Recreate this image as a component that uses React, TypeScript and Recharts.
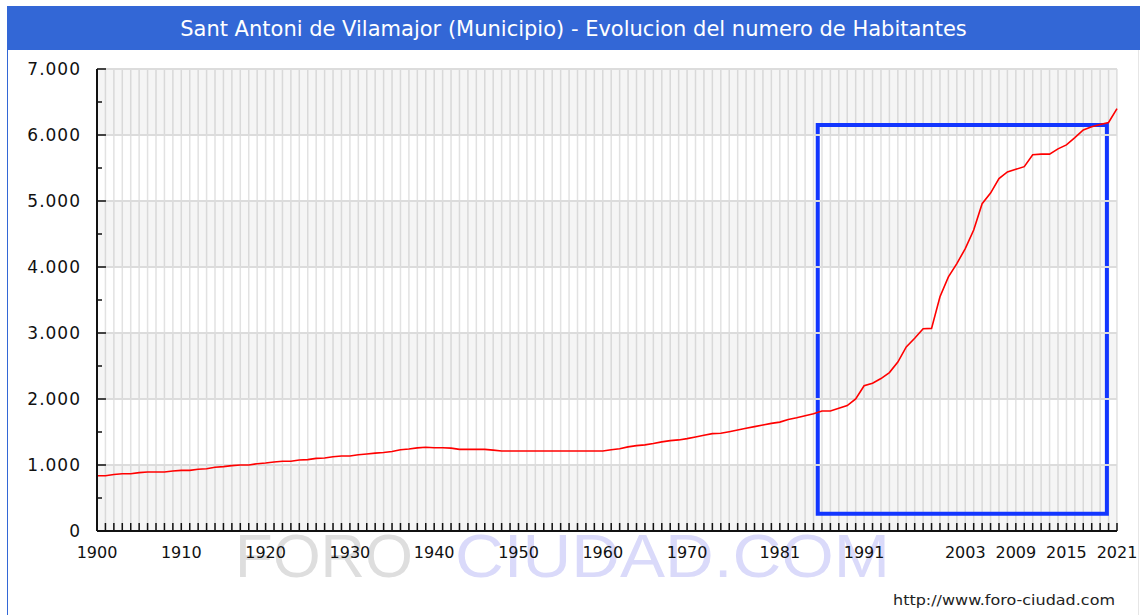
import {
  LineChart,
  Line,
  XAxis,
  YAxis,
  CartesianGrid,
  ReferenceArea,
  ReferenceLine,
} from 'recharts';

const TITLE = 'Sant Antoni de Vilamajor (Municipio) - Evolucion del numero de Habitantes';

const START_YEAR = 1900;

// habitantes por año, 1900 -> 2021
const POPULATION = [
  838, 838, 855, 868, 868, 885, 894, 894, 894, 910,
  919, 919, 935, 944, 965, 975, 990, 1000, 1000, 1020,
  1030, 1045, 1056, 1056, 1075, 1081, 1100, 1106, 1125, 1136,
  1136, 1155, 1167, 1180, 1190, 1205, 1230, 1242, 1260, 1268,
  1262, 1262, 1255, 1237, 1237, 1237, 1237, 1225, 1212, 1212,
  1212, 1212, 1212, 1212, 1212, 1212, 1212, 1212, 1212, 1212,
  1212, 1230, 1245, 1275, 1293, 1305, 1325, 1350, 1369, 1380,
  1400, 1425, 1450, 1475, 1480, 1505, 1530, 1556, 1581, 1606,
  1631, 1650, 1690, 1715, 1745, 1775, 1818, 1818, 1860, 1900,
  2000, 2200, 2240, 2310, 2400, 2560, 2790, 2920, 3065, 3070,
  3550, 3850, 4050, 4280, 4560, 4960, 5120, 5340, 5440, 5480,
  5520, 5700, 5710, 5710, 5790, 5850, 5960, 6076, 6126, 6160,
  6190, 6400,
];

const LABEL_YEARS = [1900, 1910, 1920, 1930, 1940, 1950, 1960, 1970, 1981, 1991, 2003, 2009, 2015, 2021];
const Y_TICKS = [0, 500, 1000, 1500, 2000, 2500, 3000, 3500, 4000, 4500, 5000, 5500, 6000, 6500, 7000];
const Y_GRID = [1000, 2000, 3000, 4000, 5000, 6000, 7000];
const SHADED_BANDS = [0, 2000, 4000, 6000];

// recuadro azul dibujado encima
const HIGHLIGHT_X = [1985.5, 2019.8];
const HIGHLIGHT_Y = [260, 6150];

const data = POPULATION.map((v, i) => ({ year: START_YEAR + i, hab: v }));
const YEAR_TICKS = data.map(d => d.year);

const FONT = '"DejaVu Sans", Verdana, sans-serif';

const fmt = (n: number) => String(n).replace(/\B(?=(\d{3})+(?!\d))/g, '.');

function YearTick(props: any) {
  const { x, y, payload } = props;
  const year = payload.value;
  return (
    <g>
      <line x1={x} x2={x} y1={y} y2={y - 8} stroke="#111" strokeWidth={1.5} />
      {LABEL_YEARS.includes(year) && (
        <text x={x} y={y + 21} textAnchor="middle" dominantBaseline="central"
          fontFamily={FONT} fontSize={16} fill="#111">
          {year}
        </text>
      )}
    </g>
  );
}

function ValueTick(props: any) {
  const { x, y, payload } = props;
  const major = payload.value % 1000 === 0;
  return (
    <g>
      <line x1={x} x2={x + (major ? 9 : 5)} y1={y} y2={y} stroke="#111" strokeWidth={1.5} />
      {major && (
        <text x={x - 16} y={y} textAnchor="end" dominantBaseline="central"
          fontFamily={FONT} fontSize={17} letterSpacing={1} fill="#111">
          {fmt(payload.value)}
        </text>
      )}
    </g>
  );
}

export default function App() {
  return (
    <div style={{ position: 'absolute', left: 0, top: 0, width: 1140, height: 615, background: '#fff', overflow: 'hidden', fontFamily: FONT }}>
      <div style={{
        position: 'absolute', left: 7, top: 6, width: 1133, height: 44, background: '#3367d6',
        color: '#fff', fontSize: 21, lineHeight: '46px', textAlign: 'center',
      }}>
        {TITLE}
      </div>
      <div style={{ position: 'absolute', left: 7, top: 50, width: 1, height: 565, background: '#3367d6' }} />
      <div style={{ position: 'absolute', left: 1138, top: 50, width: 1, height: 565, background: '#e6e6e6' }} />

      <svg width={1140} height={615} style={{ position: 'absolute', left: 0, top: 0 }}>
        <text x={235} y={577} fontFamily='"Liberation Sans", Arial, sans-serif' fontSize={62}
          fill="#dedede" textLength={178} lengthAdjust="spacingAndGlyphs">FORO</text>
        <text x={455} y={577} fontFamily='"Liberation Sans", Arial, sans-serif' fontSize={62}
          fill="#dadafa" textLength={435} lengthAdjust="spacingAndGlyphs">CIUDAD.COM</text>
        <text x={893} y={605} fontFamily={FONT} fontSize={14} fill="#222"
          textLength={222} lengthAdjust="spacingAndGlyphs">http://www.foro-ciudad.com</text>
      </svg>

      <div style={{ position: 'absolute', left: 0, top: 0 }}>
        <LineChart width={1140} height={615} data={data} margin={{ top: 69, right: 23, bottom: 0, left: 0 }}>
          <CartesianGrid horizontal={false} stroke="#e2e2e2" strokeWidth={1.5} />
          {SHADED_BANDS.map(b => (
            <ReferenceArea key={b} y1={b} y2={b + 1000} fill="#000" fillOpacity={0.04} stroke="none" />
          ))}
          {Y_GRID.map(v => (
            <ReferenceLine key={v} y={v} stroke="#dcdcdc" strokeWidth={2} />
          ))}
          <XAxis
            dataKey="year"
            type="number"
            domain={[1900, 2021]}
            ticks={YEAR_TICKS}
            interval={0}
            height={84}
            tickSize={0}
            tickMargin={0}
            tickLine={false}
            axisLine={{ stroke: '#111', strokeWidth: 2 }}
            tick={<YearTick />}
          />
          <YAxis
            type="number"
            domain={[0, 7000]}
            ticks={Y_TICKS}
            interval={0}
            width={97}
            tickSize={0}
            tickMargin={0}
            tickLine={false}
            axisLine={{ stroke: '#111', strokeWidth: 2 }}
            tick={<ValueTick />}
          />
          <Line
            type="linear"
            dataKey="hab"
            stroke="#ff0000"
            strokeWidth={1.6}
            dot={false}
            isAnimationActive={false}
          />
          <ReferenceArea
            x1={HIGHLIGHT_X[0]}
            x2={HIGHLIGHT_X[1]}
            y1={HIGHLIGHT_Y[0]}
            y2={HIGHLIGHT_Y[1]}
            fill="none"
            stroke="#1236ff"
            strokeWidth={4}
          />
        </LineChart>
      </div>
    </div>
  );
}
